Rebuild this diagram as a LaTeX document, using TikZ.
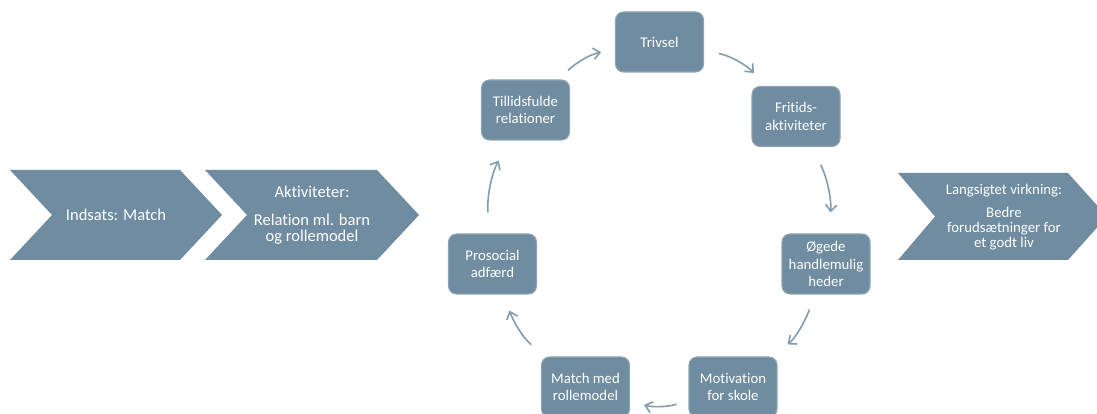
\documentclass[tikz,border=0pt]{standalone}
\usepackage{fontspec}
\setmainfont[Ligatures=NoCommon]{Carlito}
\usepackage{xcolor}
\usetikzlibrary{arrows.meta}
\definecolor{stepfill}{RGB}{111,140,160}
\definecolor{stepline}{RGB}{140,164,180}
\definecolor{cyclecol}{RGB}{128,156,175}
\newcommand{\chevfont}{\fontsize{12.4}{11.8}\selectfont\lineskiplimit=-10pt\relax}
\newcommand{\chevsmallfont}{\fontsize{11.1}{10.9}\selectfont\lineskiplimit=-10pt\relax}

\begin{document}
\begin{tikzpicture}[x=0.75pt,y=0.75pt,
  cyclebox/.style={draw=stepline,line width=0.8pt,fill=stepfill,text=white,rounded corners=6pt,
    minimum width=66pt,minimum height=45pt,inner sep=0pt,align=center,
    font=\fontsize{11.1}{13}\selectfont},
  chevtext/.style={text=white,align=center,inner sep=0pt},
  cyclearrow/.style={draw=cyclecol,line width=1.2pt,-{Straight Barb[length=5pt,width=8.5pt]}}]

\useasboundingbox (0,0) rectangle (1097,414);
\clip (0,0) rectangle (1097,414);


% chevrons
\fill[stepfill] (10,244) -- (180,244) -- (222,199) -- (180,154) -- (10,154) -- (52,199) -- cycle;
\fill[stepfill] (205,244) -- (377,244) -- (419,199) -- (377,154) -- (205,154) -- (247,199) -- cycle;
\fill[stepfill] (898,241) -- (1068,241) -- (1107,197.5) -- (1068,154) -- (898,154) -- (935,197.5) -- cycle;

\node[chevtext,font=\chevfont] (ArrowIndsats) at (116,199) {Indsats: Match};
\node[chevtext,font=\chevfont] (ArrowAktiv) at (312,199) {Aktiviteter:\\[9pt]Relation ml. barn\\og rollemodel};
\node[chevtext,font=\chevsmallfont] (ArrowVirkning) at (1004,197) {Langsigtet virkning:\\[6.6pt]Bedre\\forudsætninger for\\et godt liv};


% cycle
\node[cyclebox] (StepTrivsel) at (659.5,372) {Trivsel};
\node[cyclebox] (StepTillid) at (525.5,304) {Tillidsfulde\\relationer};
\node[cyclebox] (StepFritid) at (796,297.5) {Fritids-\\aktiviteter};
\node[cyclebox] (StepOgede) at (826,150) {Øgede\\handlemulig\\heder};
\node[cyclebox] (StepMotiv) at (733,27) {Motivation\\for skole};
\node[cyclebox] (StepMatch) at (585.5,27) {Match med\\rollemodel};
\node[cyclebox] (StepProsocial) at (492.5,150) {Prosocial\\adfærd};


\draw[cyclearrow,shorten <=10pt,shorten >=10.5pt] (StepTillid) to[out=43,in=190] (StepTrivsel);
\draw[cyclearrow,shorten <=11.4pt,shorten >=13.5pt] (StepTrivsel) to[out=-11,in=134] (StepFritid);
\draw[cyclearrow,shorten <=15pt,shorten >=15.8pt] (StepFritid) to[out=-63,in=85] (StepOgede);
\draw[cyclearrow,shorten <=12pt,shorten >=14.7pt] (StepOgede) to[out=-110,in=38] (StepMotiv);
\draw[cyclearrow,shorten <=9.3pt,shorten >=11pt] (StepMotiv) to[out=197,in=-17] (StepMatch);
\draw[cyclearrow,shorten <=14.4pt,shorten >=12.8pt] (StepMatch) to[out=142,in=-70] (StepProsocial);
\draw[cyclearrow,shorten <=15.8pt,shorten >=17pt] (StepProsocial) to[out=95,in=242] (StepTillid);

\end{tikzpicture}
\end{document}
